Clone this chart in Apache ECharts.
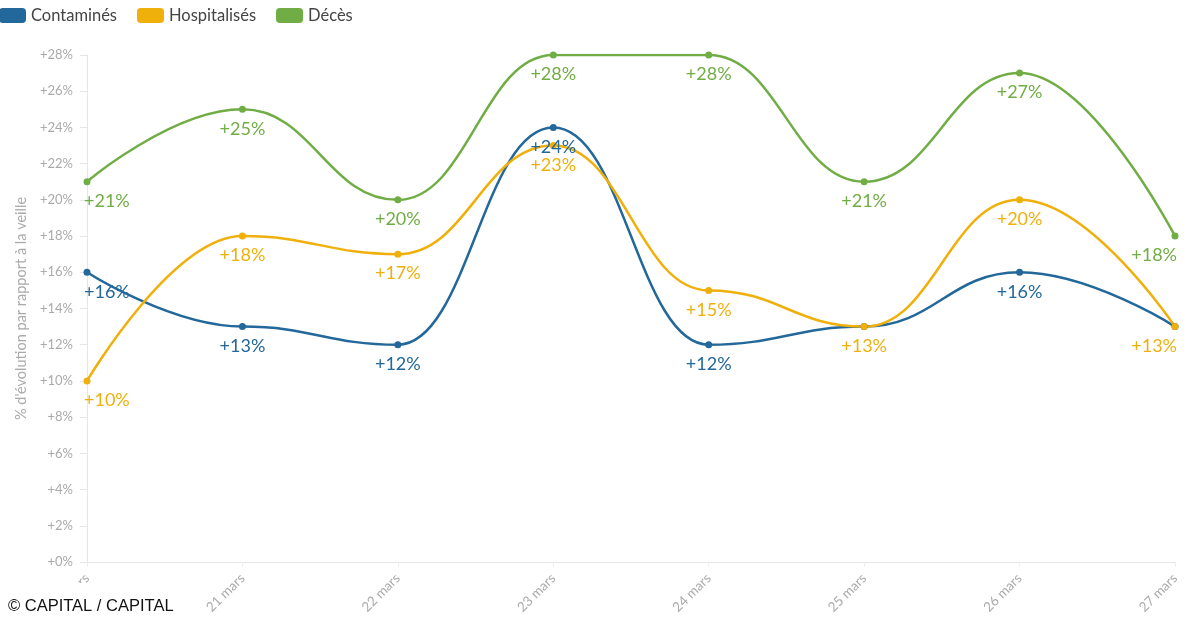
<!DOCTYPE html>
<html><head><meta charset="utf-8">
<script src="https://cdn.jsdelivr.net/npm/echarts@6/dist/echarts.min.js"></script>
<style>html,body{margin:0;padding:0;background:#fff}#c{width:1200px;height:630px}</style>
</head><body><div id="c"></div>
<script>
const categories = ['20 mars','21 mars','22 mars','23 mars','24 mars','25 mars','26 mars','27 mars'];
const contamines = [16,13,12,24,12,13,16,13];
const hospitalises = [10,18,17,23,15,13,20,13];
const deces = [21,25,20,28,28,21,27,18];
const yTicks = [0,2,4,6,8,10,12,14,16,18,20,22,24,26,28];

const FONT = 'Lato, "Open Sans", sans-serif';
const colors = {c:'#23689a', h:'#f0b00c', d:'#71ad45'};

function mk(name, vals, color, hideIf){
  const n = vals.length;
  return {
    name, type:'line', smooth:0.45, smoothMonotone:'x',
    symbol:'circle', symbolSize:7,
    lineStyle:{width:2.5,color}, itemStyle:{color},
    data: vals.map((v,i)=>({value:v, label:{
      show: !(hideIf && hideIf[i]===v),
      align: i===0?'left':(i===n-1?'right':'center'),
      offset: i===0?[-3,0]:(i===n-1?[2,0]:[0,0])}})),
    label:{show:true, position:'bottom', distance:7, color, fontSize:18, fontFamily:FONT,
      formatter:p=>'+'+p.value+'%'}
  };
}

const chart = echarts.init(document.getElementById('c'));
chart.setOption({
  animation:false,
  color:[colors.c,colors.h,colors.d],
  legend:{left:-6, top:2, itemWidth:27, itemHeight:15, itemGap:20, icon:'roundRect',
    textStyle:{fontSize:16.5, color:'#444', fontFamily:FONT},
    data:['Contaminés','Hospitalisés','Décès']},
  grid:{left:87, right:25, top:55, bottom:68, containLabel:false},
  xAxis:{type:'category', data:categories, boundaryGap:false,
    axisLine:{lineStyle:{color:'#e6e6e6'}},
    axisTick:{show:true, alignWithLabel:true, length:5, lineStyle:{color:'#eee'}},
    axisLabel:{rotate:45, color:'#aaa', fontSize:13.5, fontFamily:FONT, margin:14, interval:0},
    splitLine:{show:false}},
  yAxis:{type:'value', min:0, max:28, interval:2,
    name:"% d'évolution par rapport à la veille", nameLocation:'middle', nameGap:54, nameRotate:90,
    nameTextStyle:{color:'#aaa', fontSize:14.5, fontFamily:FONT},
    axisLine:{show:true, lineStyle:{color:'#e6e6e6'}},
    axisTick:{show:true, length:7, lineStyle:{color:'#e6e6e6'}},
    axisLabel:{color:'#aaa', fontSize:13, fontFamily:FONT, margin:14,
      formatter:v=> yTicks.includes(v) ? '+'+v+'%' : ''},
    splitLine:{show:false}},
  series:[mk('Contaminés',contamines,colors.c,hospitalises), mk('Hospitalisés',hospitalises,colors.h), mk('Décès',deces,colors.d)],
  graphic:[{type:'text', left:0, top:583, z:100,
    style:{text:'© CAPITAL / CAPITAL', fill:'#111', font:'16.5px "Liberation Sans", Arial, sans-serif',
      backgroundColor:'#fff', padding:[15,8,8,8]}}]
});
</script></body></html>
